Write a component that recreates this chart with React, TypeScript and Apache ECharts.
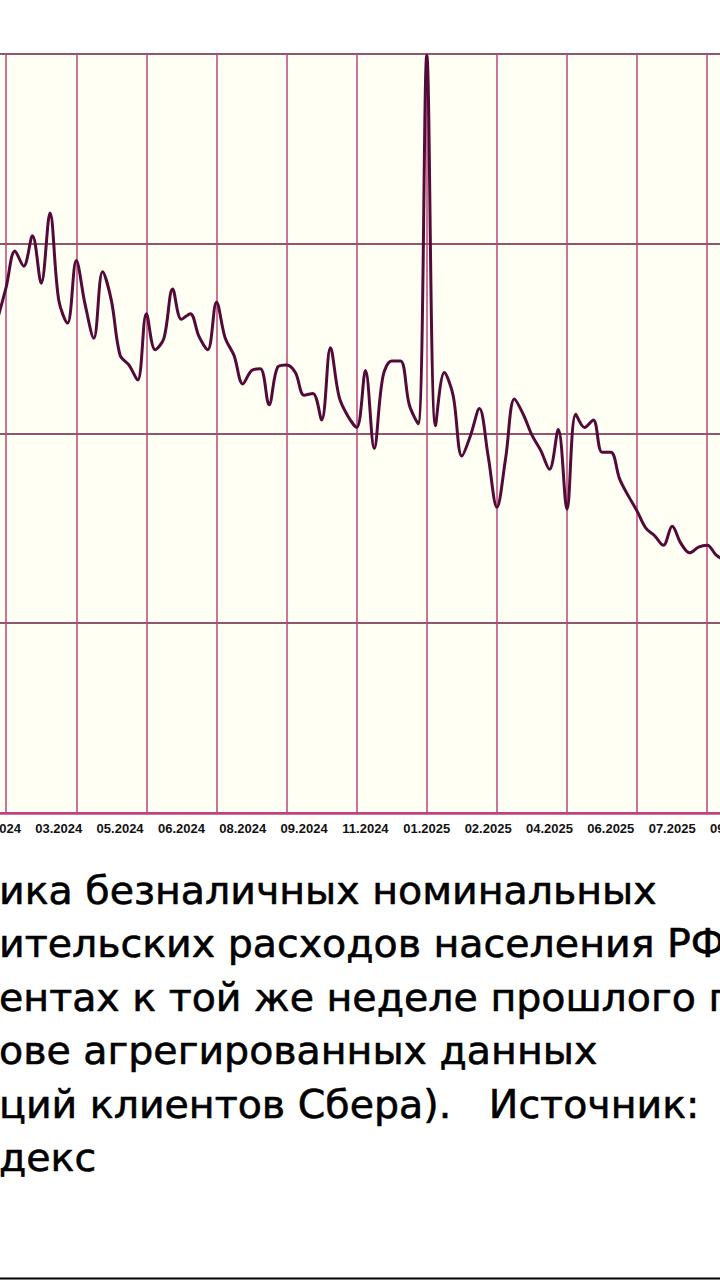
import React, { useEffect, useRef } from "react";
import * as echarts from "echarts";

// week-ending date of the first plotted week (index 0 of the series)
const firstWeekEnd = "2024-01-28";

// tick labels, one every 7 weeks starting at the first week
const tickLabels = [
  "01.2024", "03.2024", "05.2024", "06.2024", "08.2024", "09.2024", "11.2024",
  "01.2025", "02.2025", "04.2025", "06.2025", "07.2025", "09.2025",
];

// weekly YoY growth of cashless nominal consumer spending, %
const spendingYoY = [
  16.0, 17.7, 19.6, 18.8, 20.4, 17.9, 21.6, 17.0, 15.8, 19.1,
  16.8, 15.0, 18.5, 17.0, 14.1, 13.6, 12.8, 16.3, 14.4, 15.0,
  17.6, 16.0, 16.3, 15.1, 14.4, 16.9, 15.0, 14.1, 12.6, 13.3,
  13.4, 11.5, 13.5, 13.6, 13.2, 12.0, 12.1, 10.7, 14.5, 11.9,
  10.9, 10.3, 13.3, 9.2, 13.0, 13.8, 13.8, 11.5, 10.5, 29.9,
  10.4, 13.2, 12.0, 8.8, 9.9, 11.3, 8.8, 6.1, 8.7, 11.8,
  11.0, 9.9, 9.1, 8.1, 10.2, 6.0, 11.0, 10.3, 10.7, 9.0,
  9.0, 7.6, 6.7, 5.9, 5.0, 4.6, 4.1, 5.1, 4.2, 3.7,
  4.0, 4.1, 3.6, 3.3,
];

const yMin = -10;
const yMax = 30;
const yStep = 10;

const captionLines = [
  "ика безналичных номинальных",
  "ительских расходов населения РФ",
  "ентах к той же неделе прошлого г",
  "ове агрегированных данных",
  "ций клиентов Сбера).   Источник:",
  "декс",
];

const PAD_BEFORE = 3;
const PAD_AFTER = 3;

function buildCategories(): string[] {
  const start = new Date(firstWeekEnd + "T00:00:00Z").getTime();
  const out: string[] = [];
  const total = PAD_BEFORE + spendingYoY.length + PAD_AFTER;
  for (let i = 0; i < total; i++) {
    const d = new Date(start + (i - PAD_BEFORE) * 7 * 86400000);
    out.push(d.toISOString().slice(0, 10));
  }
  return out;
}

export default function App() {
  const ref = useRef<HTMLDivElement>(null);

  useEffect(() => {
    if (!ref.current) return;
    const chart = echarts.init(ref.current, undefined, { renderer: "svg" });
    const categories = buildCategories();
    const seriesData: (number | null)[] = [
      ...Array(PAD_BEFORE).fill(null),
      ...spendingYoY,
      ...Array(PAD_AFTER).fill(null),
    ];
    const OFFSET_X = 40; // chart div starts 40px left of the page

    const captionFont = '39.5px "DejaVu Sans", sans-serif';
    const captionStart = 870;
    const captionStep = 53.4;

    const graphics: any[] = captionLines.map((t, i) => ({
      type: "text",
      x: OFFSET_X - 1,
      y: captionStart + i * captionStep,
      style: {
        text: t,
        font: captionFont,
        fill: "#000",
        stroke: "#000",
        lineWidth: 0.6,
        textVerticalAlign: "alphabetic",
        textAlign: "left",
      },
      silent: true,
    }));
    graphics.push({
      type: "line",
      shape: { x1: 0, y1: 1278.5, x2: 800, y2: 1278.5 },
      style: { stroke: "#000", lineWidth: 2 },
      silent: true,
    });

    chart.setOption({
      animation: false,
      backgroundColor: "#ffffff",
      grid: {
        left: 11.13,
        right: 6.56,
        top: 53.5,
        bottom: 1280 - 813,
        show: true,
        backgroundColor: "#fffff3",
        borderWidth: 0,
      },
      xAxis: {
        type: "category",
        data: categories,
        boundaryGap: false,
        axisLine: { show: true, onZero: false, lineStyle: { color: "#c4407c", width: 2.5 } },
        axisTick: { show: false },
        axisLabel: {
          interval: (index: number) =>
            index >= PAD_BEFORE && (index - PAD_BEFORE) % 7 === 0,
          formatter: (_v: string, index: number) => {
            const k = index - PAD_BEFORE;
            if (k < 0 || k % 7 !== 0) return "";
            return tickLabels[k / 7] ?? "";
          },
          color: "#111",
          fontSize: 13,
          fontWeight: "bold",
          fontFamily: '"Liberation Sans", Arial, sans-serif',
          margin: 9,
        },
        splitLine: {
          show: true,
          interval: (index: number) =>
            index >= PAD_BEFORE && (index - PAD_BEFORE - 1) % 8 === 0,
          lineStyle: { color: "#b8477a", width: 1.5 },
        },
      },
      yAxis: {
        type: "value",
        min: yMin,
        max: yMax,
        interval: yStep,
        axisLine: { show: false },
        axisTick: { show: false },
        axisLabel: { show: false },
        splitLine: { show: true, lineStyle: { color: "#6e1f42", width: 1.6 } },
      },
      series: [
        {
          type: "line",
          data: seriesData,
          smooth: 0.35,
          symbol: "none",
          connectNulls: false,
          lineStyle: { color: "#540a38", width: 3 },
          clip: true,
        },
      ],
      graphic: graphics,
    });

    return () => chart.dispose();
  }, []);

  return (
    <div
      style={{
        position: "fixed",
        left: 0,
        top: 0,
        width: 720,
        height: 1280,
        overflow: "hidden",
        background: "#fff",
      }}
    >
      <div
        ref={ref}
        style={{ position: "absolute", left: -40, top: 0, width: 800, height: 1280 }}
      />
    </div>
  );
}
